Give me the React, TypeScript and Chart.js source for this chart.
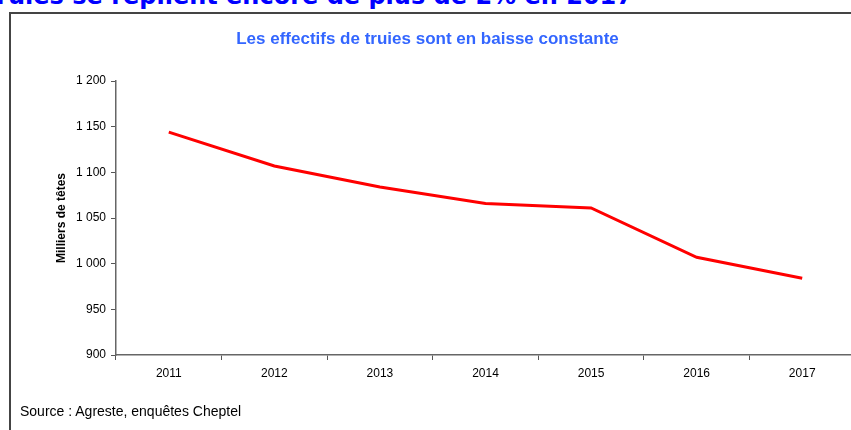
import React, { useEffect, useRef } from "react";
import { Chart, registerables } from "chart.js";

Chart.register(...registerables);

const years = ["2011", "2012", "2013", "2014", "2015", "2016", "2017"];
const sows = [1144, 1107, 1084, 1066, 1061, 1007, 984];
const yMin = 900;
const yMax = 1200;
const yStep = 50;

const headline = "Les effectifs de truies se replient encore de plus de 2% en 2017";
const chartTitle = "Les effectifs de truies sont en baisse constante";
const yTitle = "Milliers de têtes";
const sourceText = "Source : Agreste, enquêtes Cheptel";

const FONT = "'Liberation Sans', Arial, sans-serif";
const WIDE = "'DejaVu Sans', Verdana, sans-serif";

function fmt(v: number): string {
  const s = String(Math.round(v));
  return s.replace(/\B(?=(\d{3})+(?!\d))/g, " ");
}

export default function App() {
  const ref = useRef<HTMLCanvasElement | null>(null);

  useEffect(() => {
    if (!ref.current) return;
    const chart = new Chart(ref.current, {
      type: "line",
      data: {
        labels: years,
        datasets: [
          {
            data: sows,
            borderColor: "#ff0000",
            borderWidth: 3,
            pointRadius: 0,
            tension: 0,
            fill: false,
          },
        ],
      },
      options: {
        animation: false,
        responsive: false,
        maintainAspectRatio: false,
        layout: { padding: { left: 0, right: 25, top: 0, bottom: 0 } },
        plugins: {
          legend: { display: false },
          tooltip: { enabled: false },
          title: {
            display: true,
            text: chartTitle,
            color: "#3366ff",
            font: { family: FONT, size: 17, weight: "bold" },
            padding: { top: 29, bottom: 31.6 },
          },
        },
        scales: {
          x: {
            type: "category",
            offset: true,
            grid: {
              offset: true,
              drawOnChartArea: false,
              drawTicks: true,
              tickLength: 5,
              color: "#555",
            },
            border: { display: true, color: "#666", width: 1.5 },
            ticks: {
              color: "#000",
              font: { family: FONT, size: 12 },
              padding: 6,
              maxRotation: 0,
            },
            afterFit: (s: any) => {
              s.height = 75;
            },
          },
          y: {
            min: yMin,
            max: yMax,
            grid: {
              drawOnChartArea: false,
              drawTicks: true,
              tickLength: 5,
              color: "#555",
            },
            border: { display: true, color: "#666", width: 1.5 },
            ticks: {
              stepSize: yStep,
              color: "#000",
              font: { family: FONT, size: 12 },
              padding: 5,
              callback: (v: any) => fmt(Number(v)),
            },
            title: {
              display: true,
              text: yTitle,
              color: "#000",
              font: { family: FONT, size: 12, weight: "bold" },
              padding: { top: 54, bottom: 0 },
            },
            afterFit: (s: any) => {
              s.width = 116;
            },
          },
        },
      },
    });
    return () => chart.destroy();
  }, []);

  return (
    <div
      style={{
        position: "absolute",
        left: 0,
        top: 0,
        width: 851,
        height: 430,
        overflow: "hidden",
        background: "#fff",
      }}
    >
      <div
        style={{
          position: "absolute",
          right: 851 - 633,
          top: -15.8,
          whiteSpace: "nowrap",
          fontFamily: WIDE,
          fontWeight: "bold",
          fontSize: 24,
          lineHeight: "24px",
          color: "#0000ff",
        }}
      >
        {headline}
      </div>
      <div
        style={{
          position: "absolute",
          left: 9,
          top: 12,
          width: 900,
          height: 500,
          border: "2px solid #444",
          boxSizing: "border-box",
        }}
      />
      <canvas
        ref={ref}
        width={880}
        height={430}
        style={{ position: "absolute", left: 0, top: 0, width: 880, height: 430 }}
      />
      <div
        style={{
          position: "absolute",
          left: 20,
          top: 403,
          whiteSpace: "nowrap",
          fontFamily: FONT,
          fontSize: 14,
          lineHeight: "16px",
          color: "#000",
        }}
      >
        {sourceText}
      </div>
    </div>
  );
}
